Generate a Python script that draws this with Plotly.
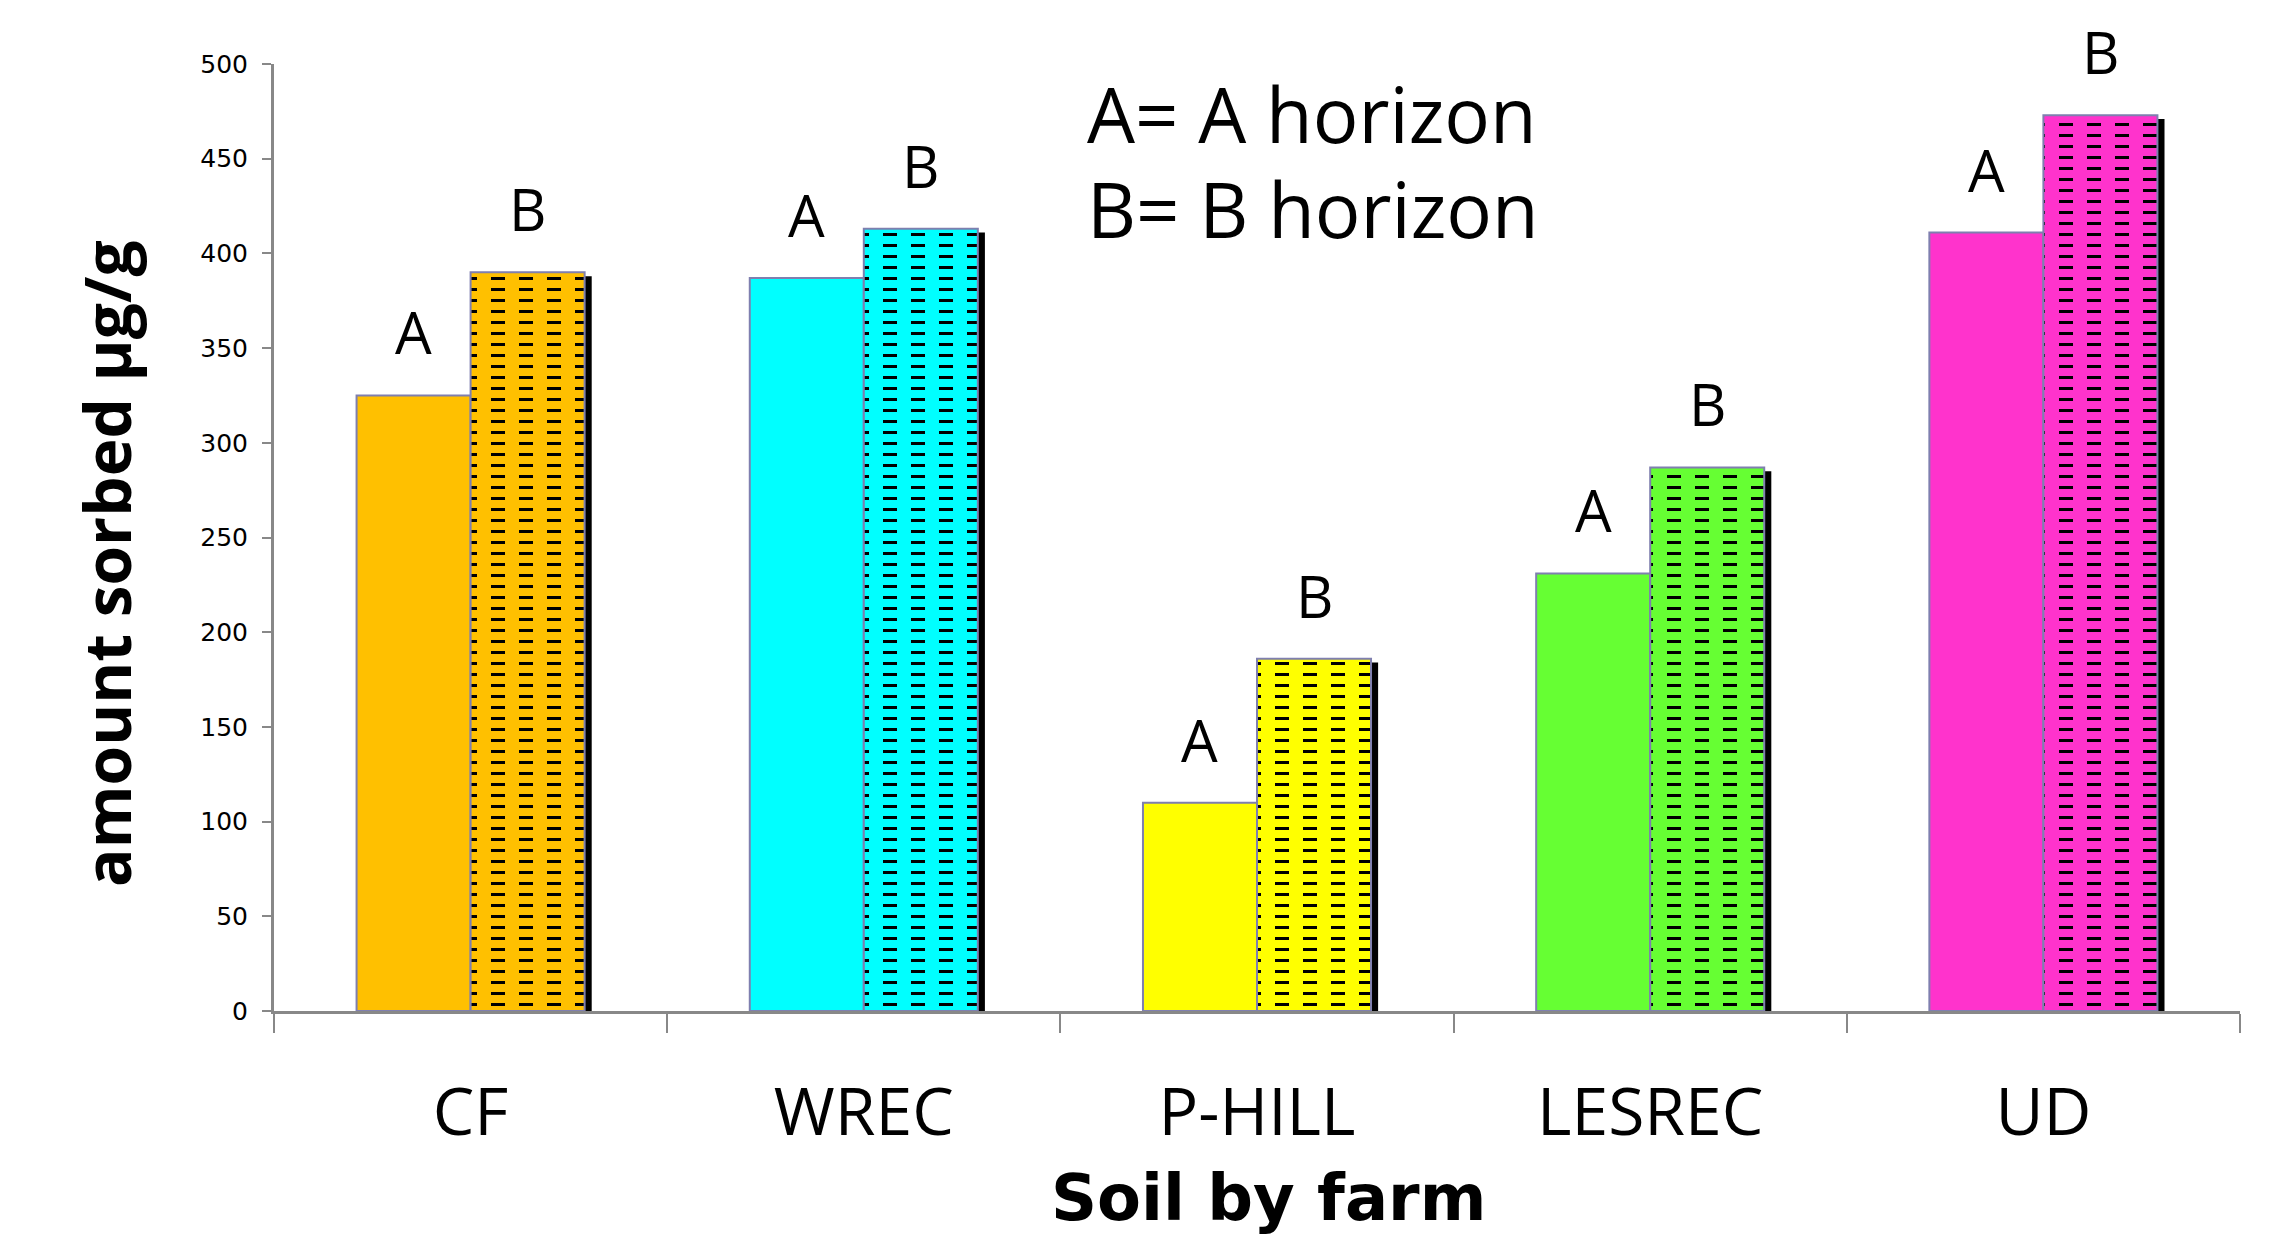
import plotly.graph_objects as go

farms = ["CF", "WREC", "P-HILL", "LESREC", "UD"]
a_horizon = [325, 387, 110, 231, 411]
b_horizon = [390, 413, 186, 287, 473]
bar_colors = ["#FFC000", "#00FFFF", "#FFFF00", "#66FF33", "#FF33CC"]
y_ticks = [0, 50, 100, 150, 200, 250, 300, 350, 400, 450, 500]

W, H = 2274, 1241
# page body has an 8px margin; compensate so the plot area lands where intended
L, R, T, B = 266, 42, 56, 238
BW = 0.29
OUTLINE = "#7F7FAF"

fig = go.Figure()

# shadow behind B bars
fig.add_trace(go.Bar(x=farms, y=b_horizon, base=-2, offset=0.018, width=BW,
                     marker=dict(color="black", line=dict(width=0)),
                     hoverinfo="skip", showlegend=False))
# A horizon bars
fig.add_trace(go.Bar(x=farms, y=a_horizon, offset=-BW, width=BW, name="A horizon",
                     marker=dict(color=bar_colors, line=dict(color=OUTLINE, width=2)),
                     showlegend=False))
# B horizon bars (dashed pattern), one trace per farm so each pattern keeps its colours
for f, b, c in zip(farms, b_horizon, bar_colors):
    fig.add_trace(go.Bar(x=[f], y=[b], offset=0, width=BW, name="B horizon",
                         marker=dict(color=c, line=dict(width=0),
                                     pattern=dict(shape="-", fillmode="replace", bgcolor=c,
                                                  fgcolor="black", fgopacity=1, size=11, solidity=0.27)),
                         showlegend=False))
    # vertical stripes in the bar colour break the horizontal lines into dashes
    fig.add_trace(go.Bar(x=[f], y=[b], offset=0, width=BW,
                         marker=dict(color=c, line=dict(width=0),
                                     pattern=dict(shape="|", fillmode="replace", bgcolor="rgba(0,0,0,0)",
                                                  fgcolor=c, fgopacity=1, size=28, solidity=0.5)),
                         hoverinfo="skip", showlegend=False))
# outline of B bars
fig.add_trace(go.Bar(x=farms, y=b_horizon, offset=0, width=BW,
                     marker=dict(color="rgba(0,0,0,0)", line=dict(color=OUTLINE, width=2)),
                     hoverinfo="skip", showlegend=False))

annotations = []
px_per_cat = (W - L - R) / len(farms)
for f, a, b in zip(farms, a_horizon, b_horizon):
    annotations.append(dict(x=f, y=a, xref="x", yref="y", text="A", showarrow=False,
                            xshift=-BW / 2 * px_per_cat, yshift=22, yanchor="bottom",
                            font=dict(family="Open Sans", size=58, color="black")))
    annotations.append(dict(x=f, y=b, xref="x", yref="y", text="B", showarrow=False,
                            xshift=BW / 2 * px_per_cat, yshift=22, yanchor="bottom",
                            font=dict(family="Open Sans", size=58, color="black")))

annotations.append(dict(x=0.4125, y=0.948, xref="paper", yref="paper", text="A= A horizon",
                        showarrow=False, xanchor="left", yanchor="middle",
                        font=dict(family="Open Sans", size=76, color="black")))
annotations.append(dict(x=0.4125, y=0.847, xref="paper", yref="paper", text="B= B horizon",
                        showarrow=False, xanchor="left", yanchor="middle",
                        font=dict(family="Open Sans", size=76, color="black")))
annotations.append(dict(x=-0.0855, y=0.473, xref="paper", yref="paper", text="amount sorbed µg/g",
                        showarrow=False, textangle=-90, xanchor="center", yanchor="middle",
                        font=dict(family="Open Sans", size=64, color="black", weight="bold")))
# x-axis title
annotations.append(dict(x=0.506, y=-0.1975, xref="paper", yref="paper", text="<b>Soil by farm</b>",
                        showarrow=False, xanchor="center", yanchor="middle",
                        font=dict(family="DejaVu Sans", size=64, color="black")))

fig.update_layout(
    width=W, height=H, autosize=False,
    margin=dict(l=L, r=R, t=T, b=B, pad=0),
    paper_bgcolor="white", plot_bgcolor="white",
    barmode="overlay",
    annotations=annotations,
    xaxis=dict(
        type="category", showgrid=False, showline=True, linecolor="#888888", linewidth=3,
        ticks="outside", tickson="boundaries", ticklen=19, tickwidth=2, tickcolor="#888888",
        tickfont=dict(family="Open Sans", size=66, color="black"), ticklabelstandoff=42,
        zeroline=False,
    ),
    yaxis=dict(
        range=[0, 500], tickvals=y_ticks, showgrid=False, showline=True, linecolor="#888888",
        linewidth=3, ticks="outside", ticklen=9, tickwidth=2, tickcolor="#888888",
        tickfont=dict(family="DejaVu Sans", size=25, color="black"), ticklabelstandoff=9,
        zeroline=False,
    ),
)

fig.write_html("out.html")
